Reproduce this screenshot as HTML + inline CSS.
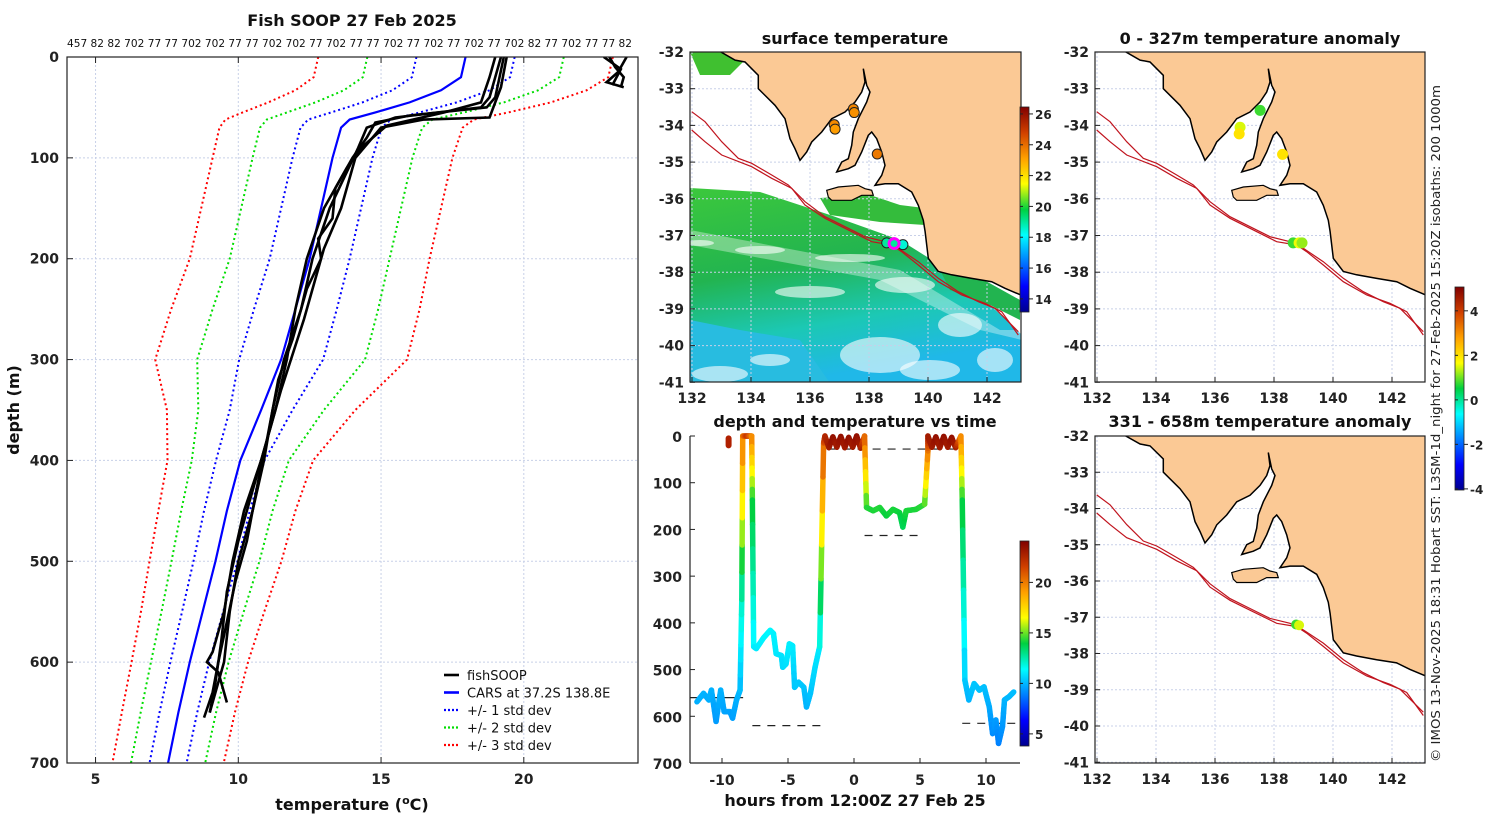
<!DOCTYPE html>
<html><head><meta charset="utf-8"><style>
body{margin:0;background:#fff}
svg text{font-family:"DejaVu Sans","Liberation Sans",sans-serif}
.tk{font-size:14px;font-weight:bold;fill:#222}
.ttl{font-size:16px;font-weight:bold;fill:#111}
</style></head><body>
<svg id="fig" width="1500" height="820" viewBox="0 0 1500 820" xmlns="http://www.w3.org/2000/svg">
<defs>
<linearGradient id="jetv" x1="0" y1="1" x2="0" y2="0">
<stop offset="0" stop-color="#00008f"/><stop offset="0.125" stop-color="#0000ff"/><stop offset="0.375" stop-color="#00ffff"/><stop offset="0.5" stop-color="#00d040"/><stop offset="0.625" stop-color="#ffff00"/><stop offset="0.75" stop-color="#ffa000"/><stop offset="0.875" stop-color="#d04000"/><stop offset="1" stop-color="#800000"/>
</linearGradient>
<linearGradient id="sstg" x1="0" y1="0" x2="0.3" y2="1">
<stop offset="0" stop-color="#3cc83c"/><stop offset="0.45" stop-color="#22b450"/><stop offset="0.75" stop-color="#1cc8b4"/><stop offset="1" stop-color="#20b8e8"/>
</linearGradient>
</defs>
<g id="left"></g>
<g id="mid"></g>
<g id="ts"></g>
<g id="r1"></g>
<g id="r2"></g>
<text x="1440" y="762" transform="rotate(-90 1440 762)" font-size="12" fill="#222" textLength="677" lengthAdjust="spacingAndGlyphs">© IMOS 13-Nov-2025 18:31 Hobart SST: L3SM-1d_night for 27-Feb-2025 15:20Z isobaths: 200  1000m</text>
</svg>
<script>
const NS="http://www.w3.org/2000/svg";
function el(p,t,a,txt){const e=document.createElementNS(NS,t);for(const k in a)e.setAttribute(k,a[k]);if(txt!==undefined)e.textContent=txt;p.appendChild(e);return e;}
function jet(v){v=Math.max(0,Math.min(1,v));const st=[[0,0,0,143],[0.125,0,0,255],[0.375,0,255,255],[0.5,0,208,64],[0.625,255,255,0],[0.75,255,160,0],[0.875,208,64,0],[1,128,0,0]];for(let i=1;i<st.length;i++){if(v<=st[i][0]){const a=st[i-1],b=st[i],f=(v-a[0])/(b[0]-a[0]);return `rgb(${Math.round(a[1]+f*(b[1]-a[1]))},${Math.round(a[2]+f*(b[2]-a[2]))},${Math.round(a[3]+f*(b[3]-a[3]))})`;}}return "rgb(128,0,0)";}

/* ===== Left profile chart data ===== */
const carsDepth=[0,20,33,45,55,62,70,100,150,200,250,300,350,400,450,500,550,600,650,700];
const carsMean=[17.96,17.8,17.1,16.0,14.8,13.9,13.6,13.3,12.9,12.5,12.0,11.5,10.8,10.07,9.6,9.2,8.75,8.3,7.9,7.54];
const carsStd=[1.72,1.72,1.7,1.65,1.55,1.45,1.42,1.4,1.4,1.4,1.45,1.47,1.1,0.85,0.8,0.77,0.72,0.68,0.66,0.65];
const fishProfiles=[
 {d:[0,20,40,50,55,60,70,90,120,150,200,250,300,350,400,450,500,550,600,650],t:[19.2,19.0,18.8,18.5,17,15.5,14.5,14.2,13.7,13.2,12.6,12.2,11.6,11.2,10.9,10.5,10.0,9.7,9.5,9.0]},
 {d:[0,40,50,58,65,80,100,130,160,180,200,230,280,320,380,420,480,520,560,600,630,655],t:[19.3,19.0,18.7,16,14.8,14.5,14.0,13.4,13.3,12.8,12.9,12.4,11.9,11.4,11.0,10.7,10.3,9.9,9.6,9.3,9.1,8.8]},
 {d:[0,30,60,62,70,100,150,190,260,330,400,480,530,580,620,650],t:[19.4,19.2,18.8,16.5,15,14.1,13.6,13.0,12.3,11.5,10.8,10.0,9.6,9.4,9.2,9.0]},
 {d:[0,20,45,55,68,90,110,150,200,250,300,350,400,450,500,550,590,600,610,640],t:[19.0,18.8,18.5,17.2,15.2,14.3,13.8,13.0,12.4,12.0,11.7,11.3,10.8,10.2,9.8,9.5,9.1,8.9,9.3,9.6]},
 {d:[0,10,20,30],t:[23.0,23.2,23.5,23.4]},
 {d:[0,15,25,30],t:[23.6,23.3,22.9,23.5]},
 {d:[0,12,28],t:[22.8,23.4,23.1]}
];
const xTicksL=[5,10,15,20];
const yTicksL=[0,100,200,300,400,500,600,700];
const countsLabel="457 82 82 702 77 77 702 702 77 77 702 702 77 702 77 77 702 77 702 77 702 77 702 82 77 702 77 77 82";

(function(){
 const g=document.getElementById('left');
 const X0=67,X1=638,Y0=57,Y1=763,T0=4,T1=24,D1=700;
 const xs=t=>X0+(t-T0)/(T1-T0)*(X1-X0), ys=d=>Y0+d/D1*(Y1-Y0);
 el(g,'rect',{x:X0,y:Y0,width:X1-X0,height:Y1-Y0,fill:'#fff'});
 xTicksL.forEach(t=>{const l=el(g,'line',{x1:xs(t),x2:xs(t),y1:Y0,y2:Y1,stroke:'#c8d0e8','stroke-dasharray':'2,2'});});
 yTicksL.forEach(d=>{const l=el(g,'line',{x1:X0,x2:X1,y1:ys(d),y2:ys(d),stroke:'#c8d0e8','stroke-dasharray':'2,2'});});
 const clip=el(g,'clipPath',{id:'clL'});el(clip,'rect',{x:X0,y:Y0,width:X1-X0,height:Y1-Y0});
 const pg=el(g,'g',{'clip-path':'url(#clL)'});
 [[3,'#ff0000'],[2,'#00dd00'],[1,'#0000ff']].forEach(([k,c])=>{[-1,1].forEach(s=>{
  const pts=carsDepth.map((d,i)=>xs(carsMean[i]+s*k*carsStd[i])+','+ys(d)).join(' ');
  const p=el(pg,'polyline',{points:pts,fill:'none',stroke:c,'stroke-width':2,'stroke-dasharray':'2,3'});
  });});
 const m=el(pg,'polyline',{points:carsDepth.map((d,i)=>xs(carsMean[i])+','+ys(d)).join(' '),fill:'none',stroke:'#0000ff','stroke-width':2.2});
 
 fishProfiles.forEach(p=>{const l=el(pg,'polyline',{points:p.d.map((d,i)=>xs(p.t[i])+','+ys(d)).join(' '),fill:'none',stroke:'#000','stroke-width':2.6});
  });
 el(g,'rect',{x:X0,y:Y0,width:X1-X0,height:Y1-Y0,fill:'none',stroke:'#222','stroke-width':1.2});
 xTicksL.forEach(t=>{el(g,'line',{x1:xs(t),x2:xs(t),y1:Y1,y2:Y1-6,stroke:'#222'});el(g,'line',{x1:xs(t),x2:xs(t),y1:Y0,y2:Y0+6,stroke:'#222'});
  const tx=el(g,'text',{x:xs(t),y:Y1+21,'text-anchor':'middle',class:'tk'},t);});
 yTicksL.forEach(d=>{el(g,'line',{x1:X0,x2:X0+6,y1:ys(d),y2:ys(d),stroke:'#222'});
  const tx=el(g,'text',{x:X0-8,y:ys(d)+5,'text-anchor':'end',class:'tk'},d);});
 const t1=el(g,'text',{x:352,y:26,'text-anchor':'middle',class:'ttl'},'Fish SOOP 27 Feb 2025');
 const t2=el(g,'text',{x:67,y:47,'font-size':11,fill:'#111',textLength:565,lengthAdjust:'spacingAndGlyphs'},countsLabel);
 const xl=el(g,'text',{x:352,y:810,'text-anchor':'middle',class:'ttl'});xl.innerHTML='temperature (<tspan dy="-6" font-size="11">o</tspan><tspan dy="6">C)</tspan>';
 const yl=el(g,'text',{x:19,y:410,'text-anchor':'middle',class:'ttl',transform:'rotate(-90 19 410)'},'depth (m)');
 const leg=[['fishSOOP','#000',''],['CARS at 37.2S 138.8E','#0000ff',''],['+/- 1 std dev','#0000ff','2,2'],['+/- 2 std dev','#00dd00','2,2'],['+/- 3 std dev','#ff0000','2,2']];
 leg.forEach((e,i)=>{const y=675+i*17.5;const lg=el(g,'g',{});
  el(lg,'line',{x1:444,x2:459,y1:y,y2:y,stroke:e[1],'stroke-width':e[2]?2.2:2.6,'stroke-dasharray':e[2]||'none'});
  el(lg,'text',{x:467,y:y+5,'font-size':13,fill:'#111'},e[0]);});
})();

/* ===== map geometry (lon/lat) ===== */
function zg(p){return [132+(53+p[0]/3)/29.5,-32-(p[1]/3)/36.7];}
const gulfCoast=[[0,30],[40,70],[40,110],[90,160],[120,200],[135,260],[150,290],[165,325],[185,300],[200,270],[230,240],[260,200],[300,180],[330,150],[350,120],[360,90],[355,50],[365,100],[375,120],[365,150],[340,200],[325,240],[320,280],[310,320],[290,330],[275,360],[310,350],[330,340],[350,300],[370,250],[380,240],[395,260],[410,300],[420,340],[410,370],[390,400],[420,395],[460,395],[500,420],[520,460],[535,505]].map(zg);
const coast=[[132.89,-31.96],[133.46,-32.22]].concat(gulfCoast,[[139.9,-36.89],[140.01,-37.62],[140.35,-37.98],[140.8,-38.07],[141.48,-38.17],[142.16,-38.26],[142.61,-38.44],[143.2,-38.64]]);
const kangaroo=[[245,415],[280,405],[340,400],[360,410],[380,415],[385,430],[350,430],[320,445],[260,445],[250,435]].map(zg);
function zz(p){return [132+(p[0]/3-7)/29.5,-32-(p[1]/3-7)/36.7];}
const iso1=[[20,200],[60,230],[110,290],[160,340],[200,355],[260,390],[310,420],[360,470],[420,515],[480,545],[540,575],[600,590],[640,610],[700,650],[760,700],[820,740],[880,770],[930,790],[1000,860]].map(zz);
const iso2=[[20,255],[60,290],[110,330],[200,365],[260,400],[320,430],[360,480],[420,520],[480,550],[560,590],[620,600],[650,620],[700,660],[760,710],[830,750],[900,775],[950,800],[1000,870]].map(zz);
const lonTicks=[132,134,136,138,140,142];

function drawMap(gid,X0,Y0,W,H,latPx,cid,extra){
 const g=document.getElementById(gid);
 const xs=lon=>X0+2+(lon-132)*29.5, ys=lat=>Y0+(-32-lat)*latPx;
 const P=a=>a.map(p=>xs(p[0]).toFixed(1)+','+ys(p[1]).toFixed(1)).join(' ');
 el(g,'rect',{x:X0,y:Y0,width:W,height:H,fill:'#fff'});
 const cl=el(g,'clipPath',{id:cid});el(cl,'rect',{x:X0,y:Y0,width:W,height:H});
 const mg=el(g,'g',{'clip-path':`url(#${cid})`});
 if(extra)extra(mg,xs,ys);
 const latTicks=[];for(let l=-32;l>=-41;l--)latTicks.push(l);
 lonTicks.forEach(l=>el(mg,'line',{x1:xs(l),x2:xs(l),y1:Y0,y2:Y0+H,stroke:'#c8d0e8','stroke-dasharray':'2,2'}));
 latTicks.forEach(l=>el(mg,'line',{x1:X0,x2:X0+W,y1:ys(l),y2:ys(l),stroke:'#c8d0e8','stroke-dasharray':'2,2'}));
 const land=el(mg,'polygon',{points:P(coast.concat([[143.5,-38.7],[143.5,-31.5],[132.89,-31.5]])),fill:'#fbc995',stroke:'none'});
 
 el(mg,'polyline',{points:P(coast),fill:'none',stroke:'#000','stroke-width':1.5});
 const ki=el(mg,'polygon',{points:P(kangaroo),fill:'#fbc995',stroke:'#000','stroke-width':1.2});
 
 [iso1,iso2].forEach((s,i)=>{const l=el(mg,'polyline',{points:P(s),fill:'none',stroke:'#c0141e','stroke-width':1.2});});
 g._xs=xs;g._ys=ys;g._mg=mg;
 el(g,'rect',{x:X0,y:Y0,width:W,height:H,fill:'none',stroke:'#222','stroke-width':1.2});
 lonTicks.forEach(l=>{el(g,'line',{x1:xs(l),x2:xs(l),y1:Y0+H,y2:Y0+H-5,stroke:'#222'});
  const t=el(g,'text',{x:xs(l),y:Y0+H+21,'text-anchor':'middle',class:'tk'},l);});
 latTicks.forEach(l=>{el(g,'line',{x1:X0,x2:X0+5,y1:ys(l),y2:ys(l),stroke:'#222'});
  const t=el(g,'text',{x:X0-6,y:ys(l)+5,'text-anchor':'end',class:'tk'},l);});
 return g;
}

/* SST points (lon, lat, temp) */
const sstLon=[136.82,136.85,137.47,137.5,138.28,138.6,138.85,139.15];
const sstLat=[-33.98,-34.1,-33.55,-33.65,-34.78,-37.2,-37.2,-37.25];
const sstVal=[23.5,23.2,23.6,23.4,23.8,19,19,18.5];
function sstExtra(mg,xs,ys){
 const f=el(mg,'polygon',{points:'690,188 760,192 830,215 900,240 940,265 985,300 1022,335 1022,383 690,383',fill:'url(#sstg)'});
 
 el(mg,'polygon',{points:'690,52 720,52 745,60 730,75 700,75',fill:'#40c030'});
 el(mg,'polygon',{points:'820,198 870,195 900,205 940,210 925,225 880,222 830,215',fill:'#34bc3c'});
 el(mg,'polygon',{points:'940,270 975,275 1020,300 1020,320 990,305 950,290',fill:'#22b450'});
 el(mg,'polygon',{points:'690,320 740,330 800,340 830,383 690,383',fill:'#28bce0'});
 [[880,355,40,18],[960,325,22,12],[720,374,28,8],[810,292,35,6],[905,285,30,8],[995,360,18,12],[760,250,25,4],[850,258,35,4],[700,243,14,3],[770,360,20,6],[930,370,30,10]].forEach(e=>el(mg,'ellipse',{cx:e[0],cy:e[1],rx:e[2],ry:e[3],fill:'#fff',opacity:0.6}));
 el(mg,'polygon',{points:'690,230 900,270 1000,330 1022,330 1022,340 980,330 880,280 690,245',fill:'#fff',opacity:0.35});
}
const mid=drawMap('mid',690,52,331,330,36.7,'clM',sstExtra);
sstLon.forEach((lo,i)=>{const c=el(mid._mg,'circle',{cx:mid._xs(lo),cy:mid._ys(sstLat[i]),r:5,fill:jet((sstVal[i]-13.15)/(26.45-13.15)),stroke:'#222','stroke-width':1});
 });
el(mid._mg,'circle',{cx:mid._xs(138.85),cy:mid._ys(-37.22),r:5,fill:'none',stroke:'#ff00ff','stroke-width':3});
{const t=el(mid,'text',{x:855,y:44,'text-anchor':'middle',class:'ttl'},'surface temperature');}

const anLon1=[136.85,136.82,137.53,138.29,138.65,138.85,138.95];
const anLat1=[-34.05,-34.23,-33.59,-34.79,-37.2,-37.2,-37.2];
const anVal1=[1.5,2.0,0.8,2.0,0.8,1.6,1.2];
const anLon2=[138.75,138.85];
const anLat2=[-37.2,-37.22];
const anVal2=[0.8,1.5];
const r1=drawMap('r1',1095,52,330,330,36.7,'clR1');
anLon1.forEach((lo,i)=>{const c=el(r1._mg,'circle',{cx:r1._xs(lo),cy:r1._ys(anLat1[i]),r:5.5,fill:jet((anVal1[i]+4)/9.07)});});
{const t=el(r1,'text',{x:1260,y:44,'text-anchor':'middle',class:'ttl'},'0 - 327m temperature anomaly');}
const r2=drawMap('r2',1095,436,330,327,36.25,'clR2');
anLon2.forEach((lo,i)=>{const c=el(r2._mg,'circle',{cx:r2._xs(lo),cy:r2._ys(anLat2[i]),r:5,fill:jet((anVal2[i]+4)/9.07)});});
{const t=el(r2,'text',{x:1260,y:427,'text-anchor':'middle',class:'ttl'},'331 - 658m temperature anomaly');}

/* colorbars */
function cbar(x,y0,y1,vmin,vmax,ticks,name){
 const g=document.getElementById('fig');const cg=el(g,'g',{});
 el(cg,'rect',{x:x,y:y0,width:9,height:y1-y0,fill:'url(#jetv)',stroke:'#222','stroke-width':0.8});
 ticks.forEach(t=>{const y=y1-(t-vmin)/(vmax-vmin)*(y1-y0);el(cg,'line',{x1:x+9,x2:x+13,y1:y,y2:y,stroke:'#222'});el(cg,'line',{x1:x,x2:x+3,y1:y,y2:y,stroke:'#222'});
  el(cg,'text',{x:x+15,y:y+5,'font-size':12,'font-weight':'bold',fill:'#222'},t);});
}
cbar(1020,107,312,13.15,26.45,[14,16,18,20,22,24,26],'sst-colorbar');
cbar(1020,541,746,3.8,24.1,[5,10,15,20],'depth-temp-colorbar');
cbar(1455,287,490,-4.05,5.07,[-4,-2,0,2,4],'anomaly-colorbar');

/* ===== depth vs time ===== */
const tsHours=[-11.9,-11.4,-11.0,-10.8,-10.45,-10.1,-9.84,-9.4,-9.2,-8.9,-8.63,-8.5,-8.43,-8.1,-7.75,-7.7,-7.6,-7.4,-6.85,-6.35,-6.1,-5.9,-5.5,-5.4,-5.15,-4.9,-4.65,-4.5,-4.2,-3.8,-3.6,-3.3,-2.95,-2.6,-2.3,-2.2,-1.9,-1.6,-1.3,-1.0,-0.7,-0.4,-0.1,0.2,0.5,0.8,0.95,1.45,1.95,2.45,2.95,3.45,3.7,3.95,4.7,5.35,5.6,5.6,5.9,6.2,6.5,6.8,7.1,7.4,7.7,8.1,8.2,8.4,8.7,9.1,9.5,9.85,10.25,10.5,10.75,10.95,11.25,11.4,11.75,12.1];
const tsDepth=[569,551,565,544,611,544,590,590,604,565,544,350,0,0,0,137,451,455,432,416,423,466,470,495,488,445,449,538,527,538,580,551,495,451,15,0,25,2,24,1,25,3,24,0,26,0,153,160,153,171,157,164,195,160,157,146,32,0,24,2,25,1,24,3,25,0,137,523,565,530,544,537,580,637,608,658,622,565,558,548];
const tsTemp=[9.8,9.9,9.8,9.9,9.4,9.9,9.6,9.6,9.5,9.8,10,12.2,20,22,20,14.2,11.1,11,11.2,11.3,11.2,11,10.9,10.7,10.8,11.1,11.1,10.3,10.4,10.3,9.9,10.2,10.7,11.0,21,22.5,23,23.5,23,23.5,23,23.5,23,23.5,23,21,14.3,14.2,14.3,14,14.2,14.1,13.6,14.2,14.2,14.4,20,23,23,23.5,23,23.5,23,23.5,23,20,14.2,10.4,9.9,10.3,10.2,10.2,9.8,9.1,9.5,8.9,9.3,9.9,10,10.1];
const botH=[[-12.4,-8.4,560],[-7.7,-2.3,620],[0.8,5.3,213],[8.2,12.4,615],[-2.0,7.7,28]];
const tsXTicks=[-10,-5,0,5,10];
const tsYTicks=[0,100,200,300,400,500,600,700];
(function(){
 const g=document.getElementById('ts');
 const X0=690,X1=1020,Y0=436,Y1=763;
 const xs=h=>854+h*13.2, ys=d=>Y0+d*(Y1-Y0)/700;
 el(g,'rect',{x:X0,y:Y0,width:X1-X0,height:Y1-Y0,fill:'#fff'});
 const cl=el(g,'clipPath',{id:'clT'});el(cl,'rect',{x:X0,y:Y0-6,width:X1-X0,height:Y1-Y0+6});
 const pg=el(g,'g',{'clip-path':'url(#clT)'});
 botH.forEach((b,i)=>{const l=el(pg,'line',{x1:xs(b[0]),x2:xs(b[1]),y1:ys(b[2]),y2:ys(b[2]),stroke:'#222','stroke-width':1.2,'stroke-dasharray':i==0?'none':'8,7'});});
 for(let i=0;i<tsHours.length-1;i++){
  const n=6;for(let k=0;k<n;k++){const f0=k/n,f1=(k+1)/n;
   const h0=tsHours[i]+(tsHours[i+1]-tsHours[i])*f0,h1=tsHours[i]+(tsHours[i+1]-tsHours[i])*f1;
   const d0=tsDepth[i]+(tsDepth[i+1]-tsDepth[i])*f0,d1=tsDepth[i]+(tsDepth[i+1]-tsDepth[i])*f1;
   const tv=tsTemp[i]+(tsTemp[i+1]-tsTemp[i])*(f0+f1)/2;
   const s=el(pg,'line',{x1:xs(h0),y1:ys(d0),x2:xs(h1),y2:ys(d1),stroke:jet((tv-3.8)/20.3),'stroke-width':5.5,'stroke-linecap':'round'});
   }}
 {const s=el(pg,'line',{x1:xs(-9.5),y1:ys(5),x2:xs(-9.5),y2:ys(20),stroke:'#b02000','stroke-width':6,'stroke-linecap':'round'});}
 el(g,'line',{x1:X0,x2:X0,y1:Y0,y2:Y1,stroke:'#222','stroke-width':1.2});el(g,'line',{x1:X0,x2:X1,y1:Y1,y2:Y1,stroke:'#222','stroke-width':1.2});
 tsXTicks.forEach(h=>{el(g,'line',{x1:xs(h),x2:xs(h),y1:Y1,y2:Y1-5,stroke:'#222'});
  const t=el(g,'text',{x:xs(h),y:Y1+22,'text-anchor':'middle',class:'tk','font-size':15},h);});
 tsYTicks.forEach(d=>{el(g,'line',{x1:X0,x2:X0+5,y1:ys(d),y2:ys(d),stroke:'#222'});
  const t=el(g,'text',{x:X0-8,y:ys(d)+6,'text-anchor':'end',class:'tk'},d);});
 const tt=el(g,'text',{x:855,y:427,'text-anchor':'middle',class:'ttl'},'depth and temperature vs time');
 const xl=el(g,'text',{x:855,y:806,'text-anchor':'middle',class:'ttl'},'hours from 12:00Z 27 Feb 25');
})();
</script>
</body></html>
